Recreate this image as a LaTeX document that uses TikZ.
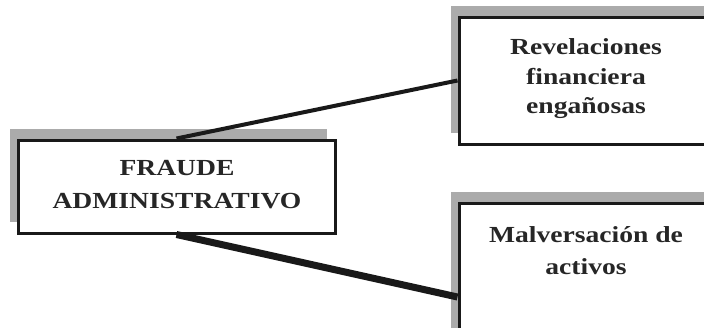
\documentclass[tikz,border=0pt]{standalone}
\usepackage{fontspec}
\setmainfont{Liberation Serif}[FakeStretch=1.2]
\usetikzlibrary{shadows}
\begin{document}
\begin{tikzpicture}[x=1pt,y=-1pt,
  boxstyle/.style={draw=black!90, line width=3pt, fill=white, rectangle, inner sep=0pt,
    drop shadow={shadow xshift=-8pt, shadow yshift=11pt, fill=black!33, opacity=1}},
  txt/.style={font=\bfseries, text=black!85, align=center},
  link/.style={draw=black!90, line cap=butt}]
\useasboundingbox (0,0) rectangle (704,327);
\clip (0,0) rectangle (704,327);
% left box
\node[boxstyle, minimum width=317pt, minimum height=93pt] (L) at (176.5,186.5) {};
\node[txt, font=\fontsize{23}{33}\selectfont\bfseries] (Lt) at (177,185) {FRAUDE\\ADMINISTRATIVO};
% top right box
\node[boxstyle, minimum width=254pt, minimum height=127pt] (R1) at (586,80.5) {};
\node[txt, font=\fontsize{23}{29.5}\selectfont\bfseries] (R1t) at (586,79) {Revelaciones\\financiera\\engañosas};
% bottom right box
\node[boxstyle, minimum width=254pt, minimum height=188pt] (R2) at (586,297) {};
\node[txt, font=\fontsize{23}{32}\selectfont\bfseries] (R2t) at (586,251) {Malversación de\\activos};
% connectors
\draw[link, line width=4pt] (L.north) -- (R1.west);
\draw[link, line width=7pt] (L.south) -- (R2.west);
\end{tikzpicture}
\end{document}
